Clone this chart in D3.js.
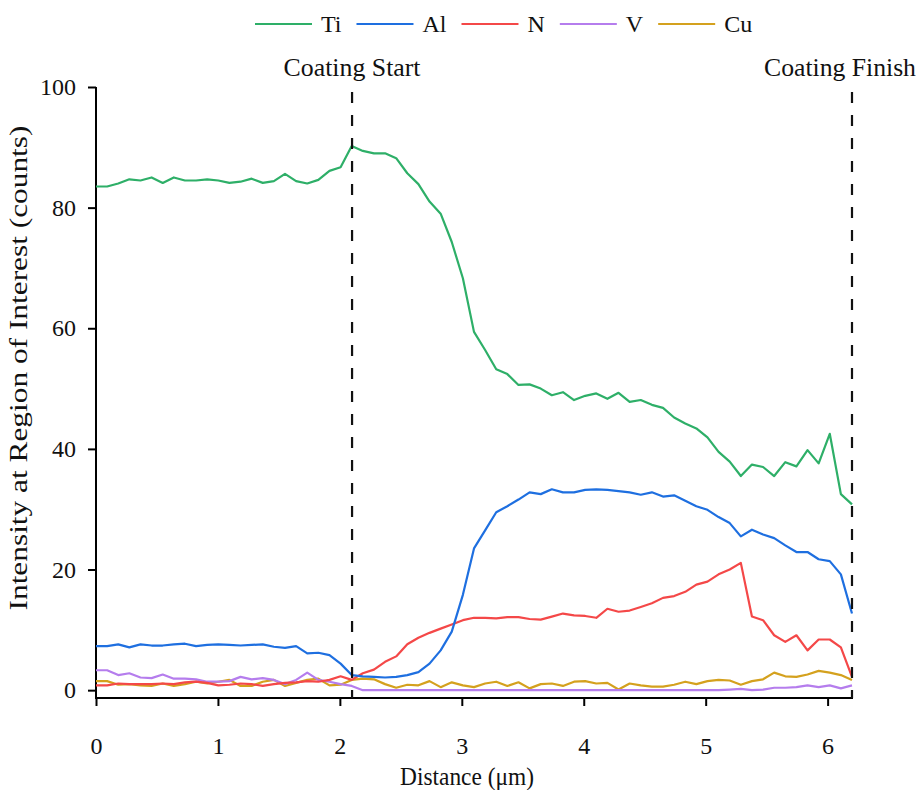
<!DOCTYPE html>
<html lang="en">
<head>
  <meta charset="UTF-8">
  <title>EDS line scan</title>
  <style>
    body { margin: 0; background: #fff; }
  </style>
</head>
<body>
  <script src="https://d3js.org/d3.v7.min.js"></script>
  <script>
    const width = 920;
    const height = 790;
    const fontFamily = '"Liberation Serif"';

    // sample grid of the line scan (69 points over 0 - 6.2 um)
    const step = 6.2 / 68;
    const distance = d3.range(69).map(i => +(i * step).toFixed(4));

    const ti = [83.5, 83.5, 84.0, 84.7, 84.5, 85.0, 84.1, 85.0, 84.5, 84.5, 84.7, 84.5, 84.1, 84.3, 84.8, 84.1, 84.4, 85.6, 84.4, 84.0,
      84.6, 86.1, 86.7, 90.2, 89.4, 89.0, 89.0, 88.2, 85.7, 83.9, 81.0, 79.0, 74.3, 68.3, 59.4, 56.4, 53.2, 52.4, 50.6, 50.7,
      50.0, 48.9, 49.4, 48.1, 48.8, 49.2, 48.3, 49.3, 47.8, 48.1, 47.3, 46.8, 45.2, 44.2, 43.4, 41.9, 39.5, 37.9, 35.5, 37.4,
      37.0, 35.5, 37.8, 37.1, 39.8, 37.6, 42.5, 32.5, 30.8];
    const al = [7.3, 7.3, 7.6, 7.1, 7.6, 7.4, 7.4, 7.6, 7.7, 7.3, 7.5, 7.6, 7.5, 7.4, 7.5, 7.6, 7.2, 7.0, 7.3, 6.1,
      6.2, 5.8, 4.4, 2.5, 2.3, 2.2, 2.1, 2.2, 2.5, 3.0, 4.4, 6.6, 9.7, 15.8, 23.5, 26.5, 29.5, 30.5, 31.6, 32.8,
      32.5, 33.3, 32.8, 32.8, 33.2, 33.3, 33.2, 33.0, 32.8, 32.4, 32.8, 32.1, 32.3, 31.4, 30.5, 29.9, 28.7, 27.7, 25.5, 26.6,
      25.8, 25.2, 24.0, 22.9, 22.9, 21.7, 21.4, 19.2, 12.7];
    const n = [0.8, 0.8, 1.1, 1.0, 1.0, 1.0, 1.1, 1.0, 1.3, 1.4, 1.2, 0.8, 0.9, 1.1, 1.0, 0.7, 1.0, 1.2, 1.3, 1.5,
      1.4, 1.7, 2.3, 1.7, 2.8, 3.4, 4.7, 5.6, 7.6, 8.7, 9.5, 10.2, 10.9, 11.6, 12.0, 12.0, 11.9, 12.1, 12.1, 11.8,
      11.7, 12.2, 12.7, 12.4, 12.3, 12.0, 13.5, 13.0, 13.2, 13.8, 14.4, 15.3, 15.6, 16.3, 17.5, 18.0, 19.2, 20.0, 21.1, 12.2,
      11.6, 9.1, 8.0, 9.1, 6.6, 8.4, 8.4, 7.1, 2.2];
    const v = [3.3, 3.3, 2.5, 2.8, 2.1, 2.0, 2.6, 1.9, 1.9, 1.8, 1.4, 1.4, 1.5, 2.2, 1.8, 2.0, 1.7, 1.0, 1.7, 2.9,
      1.7, 1.4, 1.0, 0.7, 0, 0, 0, 0, 0, 0, 0, 0, 0, 0, 0, 0, 0, 0, 0, 0,
      0, 0, 0, 0, 0, 0, 0, 0, 0, 0, 0, 0, 0, 0, 0, 0, 0, 0.1, 0.2, 0,
      0.1, 0.4, 0.4, 0.5, 0.8, 0.5, 0.8, 0.3, 0.8];
    const cu = [1.5, 1.5, 0.9, 1.0, 0.8, 0.7, 1.1, 0.7, 1.0, 1.4, 1.1, 1.4, 1.7, 0.7, 0.7, 1.4, 1.7, 0.7, 1.2, 1.7,
      1.9, 0.8, 0.9, 1.7, 1.9, 1.8, 1.0, 0.4, 0.9, 0.8, 1.5, 0.5, 1.3, 0.8, 0.5, 1.1, 1.4, 0.7, 1.3, 0.3,
      1.0, 1.1, 0.7, 1.4, 1.5, 1.1, 1.2, 0.1, 1.1, 0.8, 0.6, 0.6, 0.9, 1.4, 1.0, 1.5, 1.7, 1.6, 0.9, 1.5,
      1.8, 2.9, 2.3, 2.2, 2.6, 3.2, 2.9, 2.5, 1.7];

    const seriesNames = ['Ti', 'Al', 'N', 'V', 'Cu'];
    const seriesValues = [ti, al, n, v, cu];
    const colors = ['#2eaf68', '#1e6fe0', '#f44848', '#b57ded', '#d4a11e'];

    const markers = [{ x: 2.1, label: 'Coating Start' }, { x: 6.2, label: 'Coating Finish' }];
    const xTicks = [0, 1, 2, 3, 4, 5, 6];
    const yTicks = [0, 20, 40, 60, 80, 100];

    const plot = { left: 96, right: 852, top: 87, bottom: 698 };

    const x = d3.scaleLinear().domain([0, 6.2]).range([plot.left, plot.right]);
    const y = d3.scaleLinear().domain([-1.3, 100]).range([plot.bottom, plot.top]);

    const svg = d3.select('body').append('svg')
      .attr('width', width)
      .attr('height', height);

    // centred text fitted to the width it takes in the reference
    function label(cx, cy, str, size, w, rot) {
      const t = svg.append('text')
        .attr('font-family', fontFamily)
        .attr('font-size', size)
        .attr('fill', '#111')
        .attr('text-anchor', 'middle')
        .text(str);
      const sx = w / t.node().getComputedTextLength();
      t.attr('transform', `translate(${cx},${cy})${rot ? ' rotate(-90)' : ''} scale(${sx},1)`);
      return t;
    }

    // minor ticks
    const xMinor = d3.axisBottom(x).tickValues(d3.range(0.5, 6.2, 1)).tickSize(5).tickFormat('');
    const yMinor = d3.axisLeft(y).tickValues(d3.range(10, 100, 20)).tickSize(5).tickFormat('');

    const xAxis = d3.axisBottom(x).tickValues(xTicks).tickSize(8).tickPadding(31).tickFormat(d3.format('d'));
    const yAxis = d3.axisLeft(y).tickValues(yTicks).tickSize(8).tickPadding(12).tickFormat(d3.format('d'));

    const gx = svg.append('g').attr('transform', `translate(0,${plot.bottom})`);
    gx.call(xMinor);
    gx.call(xAxis);
    const gy = svg.append('g').attr('transform', `translate(${plot.left},0)`);
    gy.call(yMinor);
    gy.call(yAxis);

    svg.selectAll('.domain').attr('stroke', '#000').attr('stroke-width', 2);
    svg.selectAll('.tick line').attr('stroke', '#000').attr('stroke-width', 2);
    svg.selectAll('.tick text')
      .attr('font-family', fontFamily)
      .attr('font-size', 24)
      .attr('fill', '#111');
    gx.selectAll('.domain').attr('d', `M${plot.left - 1},0H${plot.right + 1}`);
    gy.selectAll('.domain').attr('d', `M0,${plot.top}V${plot.bottom + 1}`);

    // series lines
    const line = d3.line()
      .x((d, i) => x(distance[i]))
      .y(d => y(d));

    const drawOrder = [4, 3, 2, 1, 0];
    drawOrder.forEach(k => {
      svg.append('path')
        .datum(seriesValues[k])
        .attr('fill', 'none')
        .attr('stroke', colors[k])
        .attr('stroke-width', 2.2)
        .attr('stroke-linejoin', 'round')
        .attr('d', line);
    });

    // coating markers
    const markerWidths = [137, 152];
    markers.forEach((m, i) => {
      svg.append('line')
        .attr('x1', x(m.x)).attr('x2', x(m.x))
        .attr('y1', y(100) + 5).attr('y2', plot.bottom)
        .attr('stroke', '#111')
        .attr('stroke-width', 2.2)
        .attr('stroke-dasharray', '11,12');
      label(Math.min(x(m.x), width - 80), 76, m.label, 25, markerWidths[i]);
    });

    // legend
    let lx = 255;
    seriesNames.forEach((name, k) => {
      svg.append('line')
        .attr('x1', lx).attr('x2', lx + 57)
        .attr('y1', 24).attr('y2', 24)
        .attr('stroke', colors[k])
        .attr('stroke-width', 2.2);
      const t = svg.append('text')
        .attr('x', lx + 66)
        .attr('y', 32)
        .attr('font-family', fontFamily)
        .attr('font-size', 24)
        .attr('fill', '#111')
        .text(name);
      lx += 66 + t.node().getComputedTextLength() + 15;
    });

    // axis titles
    label(27, 368, 'Intensity at Region of Interest (counts)', 26, 485, true);
    label(467, 785, 'Distance (\u03bcm)', 25, 134);
  </script>
</body>
</html>
